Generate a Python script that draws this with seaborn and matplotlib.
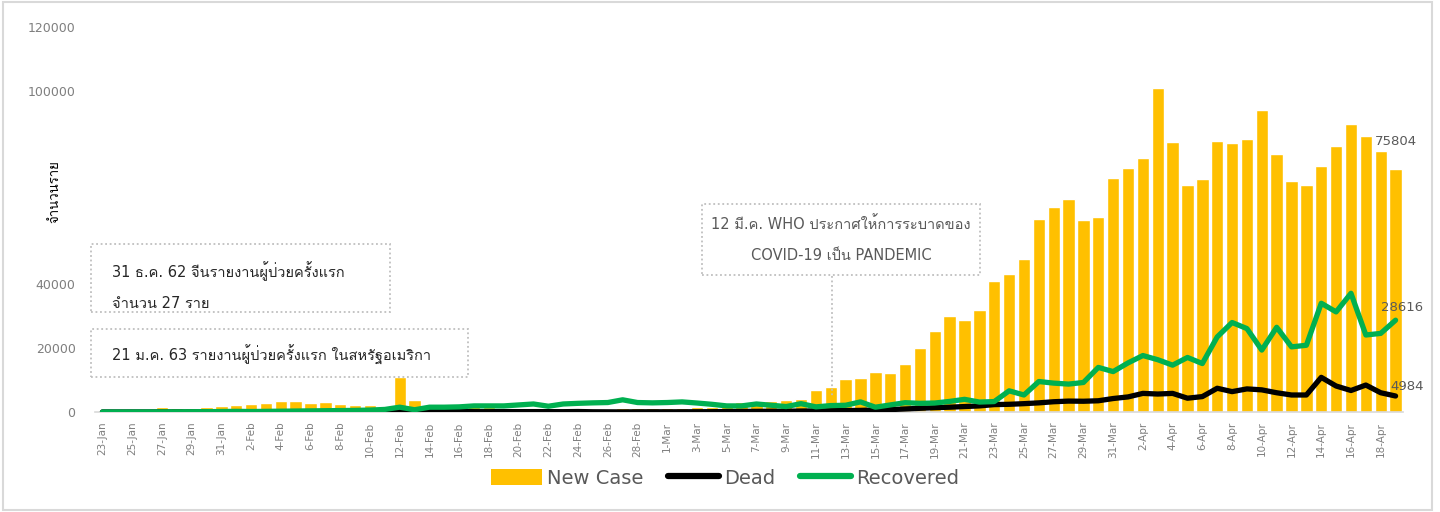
import numpy as np
import pandas as pd
import matplotlib
matplotlib.use("Agg")
import matplotlib.pyplot as plt
import seaborn as sns
from matplotlib.patches import Rectangle, Patch
from matplotlib.lines import Line2D
from matplotlib import font_manager as fm
from matplotlib.ft2font import FT2Font

# ---------------- data ----------------
dates = pd.date_range("2020-01-23", "2020-04-19", freq="D")
date_labels = [f"{d.day}-{d.strftime('%b')}" for d in dates]

new_case = [300, 400, 600, 700, 1460, 1150, 1350, 1670, 1875, 2290,
            2500, 2920, 3540, 3440, 2810, 3125, 2500, 2190, 2190, 2000,
            10900, 3750, 2290, 1900, 1900, 1800, 1700, 600, 600, 1000,
            700, 700, 500, 900, 900, 1100, 1100, 1400, 1400, 1400,
            1600, 1460, 2200, 3020, 3440, 3330, 3850, 4060, 6770, 7800,
            10300, 10600, 12400, 12300, 15100, 20000, 25400, 30000, 28750, 31875,
            40700, 43100, 47800, 60300, 63750, 66250, 59700, 60700, 73000, 76200,
            79300, 100900, 84300, 70800, 72500, 84400, 83750, 85000, 94000, 80300,
            71900, 70900, 76600, 82800, 89700, 85900, 81350, 75804]

dead = [17, 8, 16, 14, 26, 26, 26, 38, 43, 46,
        45, 57, 64, 65, 73, 73, 86, 89, 97, 108,
        250, 60, 140, 143, 142, 105, 98, 136, 114, 118,
        109, 97, 150, 71, 52, 29, 60, 70, 60, 70,
        80, 100, 150, 200, 200, 250, 250, 300, 350, 400,
        450, 500, 650, 750, 950, 1150, 1350, 1500, 1700, 1900,
        2300, 2400, 2600, 2850, 3200, 3400, 3350, 3500, 4200, 4700,
        5800, 5600, 5800, 4300, 4800, 7400, 6350, 7200, 6900, 6000,
        5300, 5300, 10800, 8100, 6700, 8400, 6000, 4984]

recovered = [0, 5, 10, 20, 40, 50, 80, 100, 150, 200,
             150, 200, 250, 300, 350, 400, 450, 500, 600, 800,
             1500, 700, 1500, 1500, 1600, 1900, 1900, 1900, 2200, 2500,
             1800, 2500, 2700, 2850, 2950, 3800, 2950, 2850, 2950, 3150,
             2800, 2400, 1900, 1900, 2500, 2100, 1700, 2600, 1600, 2000,
             2100, 3150, 1500, 2200, 2900, 2700, 2800, 3300, 3950, 3100,
             3250, 6600, 5300, 9500, 9000, 8700, 9200, 13900, 12600, 15300,
             17600, 16300, 14600, 17000, 15100, 23400, 27900, 26000, 19300, 26400,
             20300, 20800, 33900, 31200, 37000, 24000, 24500, 28616]

series_names = ["New Case", "Dead", "Recovered"]
y_ticks = [0, 20000, 40000, 60000, 80000, 100000, 120000]
y_tick_labels = ["0", "20000", "40000", "", "", "100000", "120000"]
y_label = "จำนวนราย"
note1 = ["31 ธ.ค. 62 จีนรายงานผู้ป่วยครั้งแรก", "จำนวน 27 ราย"]
note2 = "21 ม.ค. 63 รายงานผู้ป่วยครั้งแรก ในสหรัฐอเมริกา"
note3 = ["12 มี.ค. WHO ประกาศให้การระบาดของ", "COVID-19 เป็น PANDEMIC"]

C_BAR = "#FFC000"
C_DEAD = "#000000"
C_REC = "#00B050"
C_TXT = "#595959"


# ---------------- fonts ----------------
def find_family(ch):
    seen = set()
    for f in fm.fontManager.ttflist:
        if f.fname in seen:
            continue
        seen.add(f.fname)
        try:
            if ord(ch) in FT2Font(f.fname).get_charmap():
                return f.name
        except Exception:
            continue
    return None


sns.set_style("white")
thai = find_family("จ")
families = ["DejaVu Sans"] + ([thai] if thai else [])
plt.rcParams["font.family"] = families

W, H = 1440, 512
fig = plt.figure(figsize=(W / 100, H / 100), dpi=100)
fig.patch.set_facecolor("white")


def fx(x):
    return x / W


def fy(y):
    return 1 - y / H


ax = fig.add_axes([fx(95), fy(412), fx(1403) - fx(95), fy(27) - fy(412)])

df = pd.DataFrame({"date": date_labels, "new_case": new_case,
                   "dead": dead, "recovered": recovered})

sns.barplot(data=df, x="date", y="new_case", color=C_BAR, saturation=1,
            width=0.83, ax=ax, zorder=1)
sns.lineplot(data=df, x="date", y="dead", color=C_DEAD, lw=3.8, sort=False,
             errorbar=None, ax=ax, zorder=3,
             solid_capstyle="round", solid_joinstyle="round")
sns.lineplot(data=df, x="date", y="recovered", color=C_REC, lw=3.8, sort=False,
             errorbar=None, ax=ax, zorder=4,
             solid_capstyle="round", solid_joinstyle="round")

n = len(df)
ax.set_xlim(-0.5, n - 0.5)
ax.set_ylim(0, 120000)
ax.set_xlabel("")
ax.set_ylabel("")

ax.set_xticks(np.arange(0, n, 2))
ax.set_xticklabels(date_labels[::2], rotation=90, fontsize=7.5, color="#7f7f7f")
ax.set_xticks(np.arange(-0.5, n, 2), minor=True)
ax.tick_params(axis="x", which="major", length=0, pad=7)
ax.tick_params(axis="x", which="minor", length=5, width=1, color="#d9d9d9")
ax.set_yticks(y_ticks)
ax.set_yticklabels(y_tick_labels, fontsize=9, color="#7f7f7f")
ax.tick_params(axis="y", length=0, pad=14)

for s in ["left", "top", "right"]:
    ax.spines[s].set_visible(False)
ax.spines["bottom"].set_color("#d9d9d9")
ax.spines["bottom"].set_linewidth(1.2)
ax.grid(False)
if ax.get_legend():
    ax.get_legend().remove()

# data labels on last points
last = n - 1
ax.annotate(f"{new_case[-1]}", xy=(last, new_case[-1]), xytext=(0, 20),
            textcoords="offset points", ha="center", va="center",
            fontsize=9.5, color=C_TXT)
ax.annotate(f"{recovered[-1]}", xy=(last, recovered[-1]), xytext=(5, 9),
            textcoords="offset points", ha="center", va="center",
            fontsize=9.5, color=C_TXT)
ax.annotate(f"{dead[-1]}", xy=(last, dead[-1]), xytext=(8, 7),
            textcoords="offset points", ha="center", va="center",
            fontsize=9.5, color=C_TXT)

# y label
fig.text(fx(55), fy(192), y_label, rotation=90, ha="center", va="center",
         fontsize=9.5, color="black")


# annotation boxes
def dotted_box(x0, y0, x1, y1):
    r = Rectangle((fx(x0), fy(y1)), fx(x1) - fx(x0), fy(y0) - fy(y1),
                  transform=fig.transFigure, facecolor="white",
                  edgecolor="#bfbfbf", lw=1.3, linestyle=(0, (1, 1.5)), zorder=5)
    fig.add_artist(r)


dotted_box(91, 244, 390, 312)
fig.text(fx(112), fy(271), note1[0], ha="left", va="center", fontsize=10.5,
         color="#262626", zorder=6)
fig.text(fx(112), fy(304), note1[1], ha="left", va="center", fontsize=10.5,
         color="#262626", zorder=6)

dotted_box(91, 329, 468, 377)
fig.text(fx(112), fy(355), note2, ha="left", va="center", fontsize=10.5,
         color="#262626", zorder=6)

dotted_box(702, 204, 980, 275)
fig.text(fx(841), fy(224), note3[0], ha="center", va="center", fontsize=10.5,
         color=C_TXT, zorder=6)
fig.text(fx(841), fy(255), note3[1], ha="center", va="center", fontsize=10.5,
         color=C_TXT, zorder=6)
fig.add_artist(Line2D([fx(832), fx(832)], [fy(276), fy(396)],
                      transform=fig.transFigure, color="#bfbfbf", lw=1.3,
                      linestyle=(0, (1, 1.5)), zorder=5))

# legend
handles = [Patch(facecolor=C_BAR, edgecolor="none"),
           Line2D([], [], color=C_DEAD, lw=4.5, solid_capstyle="round"),
           Line2D([], [], color=C_REC, lw=4.5, solid_capstyle="round")]
leg = fig.legend(handles, series_names, loc="center",
                 bbox_to_anchor=(fx(725), fy(478)), ncol=3, frameon=False,
                 fontsize=14, handlelength=2.6, handleheight=0.9,
                 handletextpad=0.25, columnspacing=1.3)
for t in leg.get_texts():
    t.set_color(C_TXT)

# outer border
fig.add_artist(Rectangle((fx(3), fy(510)), fx(1432) - fx(3), fy(2) - fy(510),
                         transform=fig.transFigure, fill=False,
                         edgecolor="#d9d9d9", lw=1.5, zorder=0))

fig.savefig("out.png", dpi=100, facecolor="white")
